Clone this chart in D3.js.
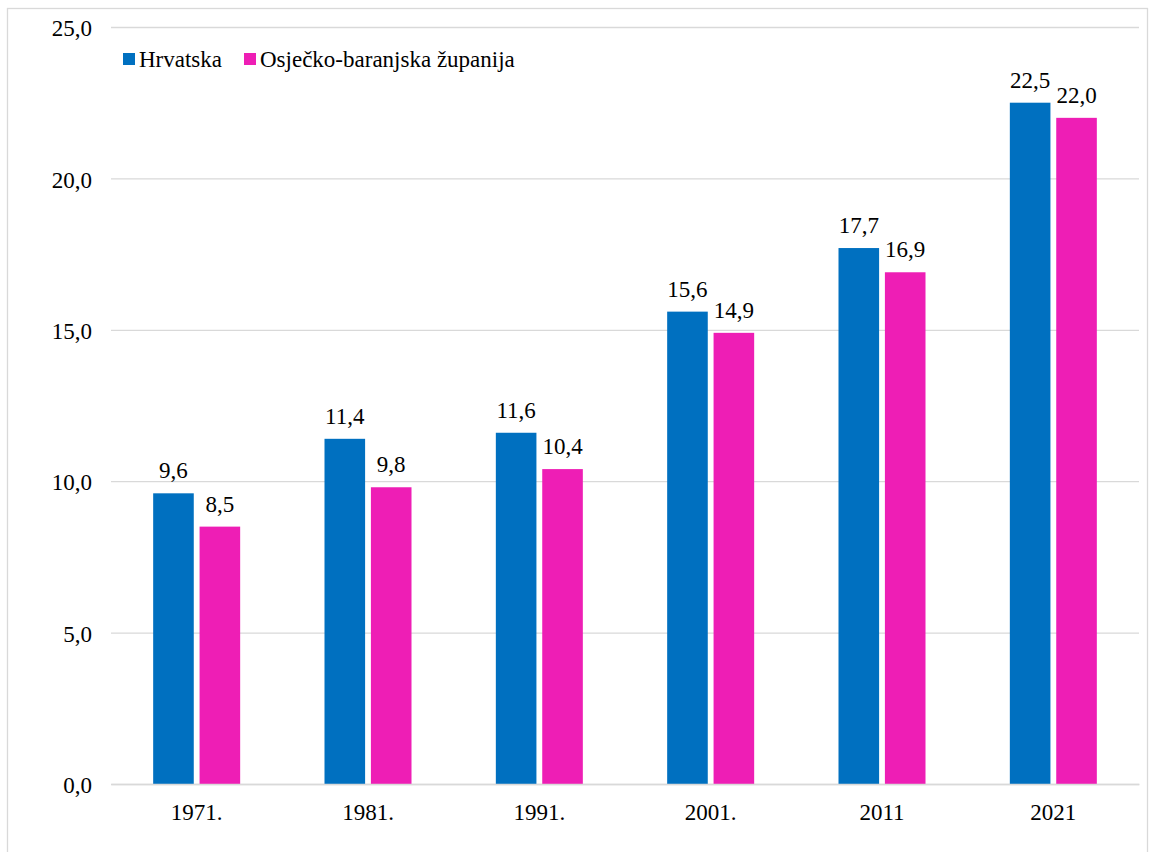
<!DOCTYPE html>
<html><head><meta charset="utf-8">
<script src="https://cdn.jsdelivr.net/npm/d3@7"></script>
<style>body{margin:0;background:#fff}svg{display:block}svg text{font-family:"Liberation Serif","Times New Roman",serif !important;fill:#000}</style>
</head><body>
<svg id="c" width="1149" height="852" font-family="Liberation Serif"></svg>
<script>
const categories = ["1971.","1981.","1991.","2001.","2011","2021"];
const seriesNames = ["Hrvatska","Osječko-baranjska županija"];
const hrvatska = [9.6,11.4,11.6,15.6,17.7,22.5];
const osijek = [8.5,9.8,10.4,14.9,16.9,22.0];
const yTicks = [0,5,10,15,20,25];
const colors = ["#0070C0","#EE1EB5"];

const svg = d3.select("#c");
const FS = "23px";
const fmt = v => d3.format(".1f")(v).replace(".", ",");
const L = 111, R = 1139, T = 27, B = 784;
const x = d3.scaleBand().domain(categories).range([L,R]);
const y = d3.scaleLinear().domain([0,25]).range([B,T]);
const inner = d3.scaleBand().domain(seriesNames).range([x.bandwidth()/2-43.5, x.bandwidth()/2+43.5]).paddingInner(0.125);

svg.append("rect").attr("x",7.5).attr("y",8.5).attr("width",1140).attr("height",850)
  .attr("fill","none").attr("stroke","#d9d9d9").attr("stroke-width",1.3);

const yAxis = d3.axisLeft(y).tickValues(yTicks).tickSize(-(R-L)).tickFormat(fmt);
const gy = svg.append("g").attr("transform",`translate(${L},0)`).call(yAxis).attr("font-family","Liberation Serif");
gy.select(".domain").remove();
gy.selectAll(".tick line").attr("stroke","#d9d9d9").attr("stroke-width",1.3);
gy.selectAll(".tick text").attr("x",-19).attr("dy","0.38em").style("font-size",FS);

const data = [hrvatska, osijek];
categories.forEach((c,i)=>{
  seriesNames.forEach((s,j)=>{
    const v = data[j][i];
    const bx = x(c)+inner(s);
    svg.append("rect").attr("x",bx).attr("y",y(v)).attr("width",inner.bandwidth()).attr("height",B-y(v)).attr("fill",colors[j]);
    svg.append("text").attr("x",bx+inner.bandwidth()/2).attr("y",y(v)-15).attr("text-anchor","middle").style("font-size",FS).text(fmt(v));
  });
});

const xAxis = d3.axisBottom(x).tickSize(0).tickPadding(0);
const gx = svg.append("g").attr("transform",`translate(0,${B})`).call(xAxis).attr("font-family","Liberation Serif");
gx.select(".domain").attr("stroke","#d9d9d9").attr("stroke-width",1.3);
gx.selectAll(".tick text").attr("y",36).attr("dy",0).style("font-size",FS);

// legend
const legX = [123,244];
seriesNames.forEach((s,j)=>{
  svg.append("rect").attr("x",legX[j]).attr("y",53).attr("width",12).attr("height",12).attr("fill",colors[j]);
  svg.append("text").attr("x",legX[j]+16).attr("y",67).style("font-size",FS).text(s);
});
</script>
</body></html>
